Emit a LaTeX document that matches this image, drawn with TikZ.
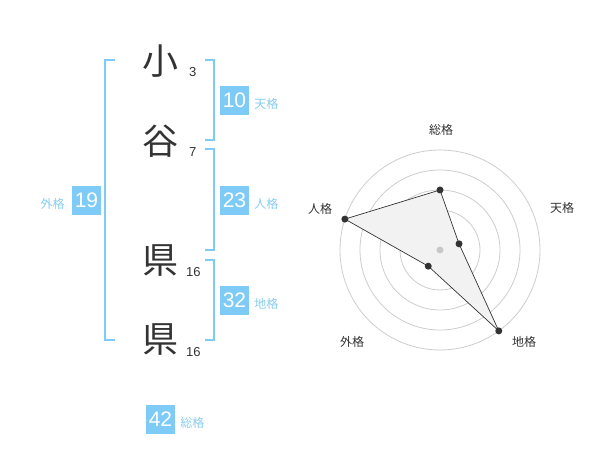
\documentclass[tikz,border=0pt]{standalone}
\usepackage{fontspec}
\setmainfont{Liberation Sans}
\newfontfamily\jpfont{Noto Sans CJK JP}
\usetikzlibrary{positioning}

\begin{document}
\begin{tikzpicture}[x=1pt,y=-1pt,
    kanji/.style={font=\jpfont\fontsize{36}{36}\selectfont, text=ink},
    strokes/.style={anchor=base west, font=\fontsize{13}{13}\selectfont, text=ink, inner sep=0pt},
    numbox/.style={fill=skyblue, text=white, minimum size=29pt, inner sep=0pt, font=\fontsize{21}{21}\selectfont},
    kaku/.style={font=\jpfont\fontsize{12}{12}\selectfont, text=paleblue, inner sep=0pt},
    bracket/.style={draw=skyblue, line width=2pt},
    ring/.style={draw=ringgray, line width=0.8pt},
    axislabel/.style={font=\jpfont\fontsize{12}{12}\selectfont, text=ink},
    dot/.style={circle, fill=ink, inner sep=0pt, minimum size=7pt}]
    % Define colors
    \definecolor{ink}{RGB}{51,51,51}
    \definecolor{skyblue}{RGB}{126,203,247}
    \definecolor{paleblue}{RGB}{136,204,240}
    \definecolor{ringgray}{RGB}{205,205,205}
    \definecolor{areagray}{RGB}{242,242,242}
    \definecolor{centergray}{RGB}{200,200,200}

    \useasboundingbox (0,0) rectangle (600,470);

    % Name characters
    \node[kanji] (c1) at (160,61) {小};
    \node[kanji] (c2) at (160,141) {谷};
    \node[kanji] (c3) at (160,261) {県};
    \node[kanji] (c4) at (160,340) {県};

    % Stroke counts
    \node[strokes] (s1) at (189,77) {3};
    \node[strokes] (s2) at (189,157) {7};
    \node[strokes] (s3) at (186,277) {16};
    \node[strokes] (s4) at (186,357) {16};

    % Brackets
    \draw[bracket] (115,60) -- (105,60) -- (105,340) -- (115,340);
    \draw[bracket] (205,60) -- (214,60) -- (214,140) -- (205,140);
    \draw[bracket] (205,149) -- (214,149) -- (214,250) -- (205,250);
    \draw[bracket] (205,260) -- (214,260) -- (214,340) -- (205,340);

    % Kakusu boxes
    \node[numbox] (ten) at (234.5,100.5) {10};
    \node[kaku, right=5pt of ten, yshift=-3pt] {天格};
    \node[numbox] (jin) at (234.5,200.5) {23};
    \node[kaku, right=5pt of jin, yshift=-3pt] {人格};
    \node[numbox] (chi) at (234.5,300.5) {32};
    \node[kaku, right=5pt of chi, yshift=-3pt] {地格};
    \node[numbox] (gai) at (86.5,200.5) {19};
    \node[kaku, left=7pt of gai, yshift=-3pt] {外格};
    \node[numbox] (sou) at (160.5,419.5) {42};
    \node[kaku, right=5pt of sou, yshift=-3pt] {総格};

    % Radar chart
    \begin{scope}[shift={(440,250)}, y=1pt]
        \foreach \r in {20,40,60,80,100}
            \draw[ring] (0,0) circle (\r);
        \coordinate (rsou) at (90:60);
        \coordinate (rten) at (18:20);
        \coordinate (rchi) at (-54:100);
        \coordinate (rgai) at (234:20);
        \coordinate (rjin) at (162:100);
        \draw[fill=areagray, draw=ink, line width=0.7pt]
            (rsou) -- (rten) -- (rchi) -- (rgai) -- (rjin) -- cycle;
        \fill[centergray] (0,0) circle (3.5);
        \foreach \p in {rsou,rten,rchi,rgai,rjin}
            \node[dot] at (\p) {};
    \end{scope}

    % Axis labels
    \node[axislabel] (lsou) at (441,130) {総格};
    \node[axislabel] (lten) at (562,208) {天格};
    \node[axislabel] (ljin) at (320,209) {人格};
    \node[axislabel] (lgai) at (352,342) {外格};
    \node[axislabel] (lchi) at (524,342) {地格};

\end{tikzpicture}
\end{document}
